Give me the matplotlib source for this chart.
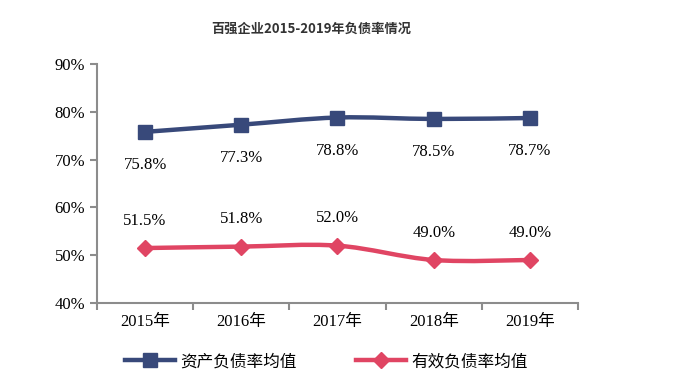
import matplotlib.pyplot as plt
from matplotlib.path import Path
from matplotlib.patches import PathPatch
from matplotlib.lines import Line2D
import numpy as np

# 数据
years = ['2015年', '2016年', '2017年', '2018年', '2019年']
zichan = [75.8, 77.3, 78.8, 78.5, 78.7]
youxiao = [51.5, 51.8, 52.0, 49.0, 49.0]

blue = '#38497a'
red = '#e04563'
grey = '#8c8c8c'

serif = ['Liberation Serif', 'Noto Sans CJK SC']
cjk = ['Noto Sans CJK SC', 'DejaVu Sans']


def smooth_path(xs, ys):
    # Catmull-Rom -> Bezier, just for drawing a smooth line
    pts = list(zip(xs, ys))
    verts = [pts[0]]
    codes = [Path.MOVETO]
    for i in range(len(pts) - 1):
        p0 = pts[i - 1] if i > 0 else pts[i]
        p1 = pts[i]
        p2 = pts[i + 1]
        p3 = pts[i + 2] if i + 2 < len(pts) else pts[i + 1]
        c1 = (p1[0] + (p2[0] - p0[0]) / 6, p1[1] + (p2[1] - p0[1]) / 6)
        c2 = (p2[0] - (p3[0] - p1[0]) / 6, p2[1] - (p3[1] - p1[1]) / 6)
        verts += [c1, c2, p2]
        codes += [Path.CURVE4] * 3
    return Path(verts, codes)


fig = plt.figure(figsize=(6.8, 3.8), dpi=100)
ax = fig.add_axes([0.1426, 0.2026, 0.7074, 0.629])

x = np.arange(len(years))
for vals, col, mk, ms in [(zichan, blue, 's', 10), (youxiao, red, 'D', 8)]:
    ax.add_patch(PathPatch(smooth_path(x, vals), fill=False, edgecolor=col, lw=3.2, capstyle='round'))
    ax.plot(x, vals, ls='none', marker=mk, ms=ms, color=col)

for i in range(len(years)):
    ax.annotate(f'{zichan[i]:.1f}%', (x[i], zichan[i]), xytext=(0, -18), textcoords='offset points',
                ha='center', va='top', fontsize=12, family=serif)
    ax.annotate(f'{youxiao[i]:.1f}%', (x[i], youxiao[i]), xytext=(0, 14), textcoords='offset points',
                ha='center', va='bottom', fontsize=12, family=serif)

ax.set_xlim(-0.5, len(years) - 0.5)
ax.set_ylim(40, 90)
ax.set_yticks(range(40, 91, 10))
ax.set_yticklabels([f'{v}%' for v in range(40, 91, 10)], family=serif, fontsize=12)
ax.set_xticks(np.arange(-0.5, len(years), 1))
ax.set_xticklabels([])
ax.set_xticks(x, minor=True)
ax.set_xticklabels(years, minor=True, family=serif, fontsize=12)
ax.tick_params(axis='x', which='minor', length=0, pad=8)
ax.tick_params(axis='both', which='major', length=5, width=1.5, color=grey)
for s in ['top', 'right']:
    ax.spines[s].set_visible(False)
for s in ['left', 'bottom']:
    ax.spines[s].set_color(grey)
    ax.spines[s].set_linewidth(1.5)

fig.text(0.458, 0.925, '百强企业2015-2019年负债率情况', ha='center', va='center',
         fontsize=9.5, fontweight='bold', family=cjk, color='#333333')

handles = [Line2D([], [], color=blue, lw=3.2, marker='s', ms=10),
           Line2D([], [], color=red, lw=3.2, marker='D', ms=8)]
fig.legend(handles, ['资产负债率均值', '有效负债率均值'], loc='center', bbox_to_anchor=(0.48, 0.048),
           ncol=2, frameon=False, prop={'family': cjk, 'size': 12}, handlelength=3.0,
           columnspacing=3.6, handletextpad=0.3)

fig.savefig('out.png')
